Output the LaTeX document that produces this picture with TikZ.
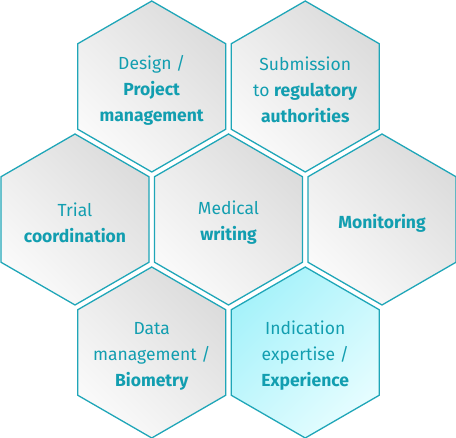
\documentclass[tikz,border=0pt]{standalone}
\usepackage{fontspec}
\setmainfont{Fira Sans}
\definecolor{hexline}{HTML}{1FA6B8}
\definecolor{hextext}{HTML}{129EB0}
\definecolor{hexlight}{HTML}{FAFAFA}
\definecolor{hexdark}{HTML}{DCDCDC}
\definecolor{cyandark}{HTML}{A6F2FA}
\definecolor{cyanlight}{HTML}{E6FDFF}
\tikzset{
  hexgray/.style={draw=hexline, line width=1.3pt, line join=miter,
    top color=hexdark, bottom color=hexlight, shading angle=-45},
  hexcyan/.style={draw=hexline, line width=1.3pt, line join=miter,
    top color=cyandark, bottom color=cyanlight, shading angle=45},
  hexlabel/.style={align=center, text=hextext, inner sep=0pt,
    font=\fontsize{17.5}{26}\selectfont}
}
\newcommand\hexcell[5]{%
  \draw[#1] (#3,#4) ++(0,85.5) -- ++(74,-42.75) -- ++(0,-85.5) -- ++(-74,-42.75)
    -- ++(-74,42.75) -- ++(0,85.5) -- cycle;
  \node[hexlabel] (#2) at (#3,#4-3.5) {#5};
}
\begin{document}
\begin{tikzpicture}[x=1pt,y=1pt]
\useasboundingbox (0,0) rectangle (456,438);
\fill[white] (0,0) rectangle (456,438);
\hexcell{hexgray}{design}{151.75}{351.5}{Design /\\\textbf{Project}\\\textbf{management}}
\hexcell{hexgray}{submission}{305.25}{351.5}{Submission\\to \textbf{regulatory}\\\textbf{authorities}}
\hexcell{hexgray}{trial}{75}{218.5}{Trial\\\textbf{coordination}}
\hexcell{hexgray}{medical}{228.5}{218.5}{Medical\\\textbf{writing}}
\hexcell{hexgray}{monitoring}{382}{218.5}{\textbf{Monitoring}}
\hexcell{hexgray}{data}{151.75}{85.5}{Data\\management /\\\textbf{Biometry}}
\hexcell{hexcyan}{indication}{305.25}{85.5}{Indication\\expertise /\\\textbf{Experience}}
\end{tikzpicture}
\end{document}
